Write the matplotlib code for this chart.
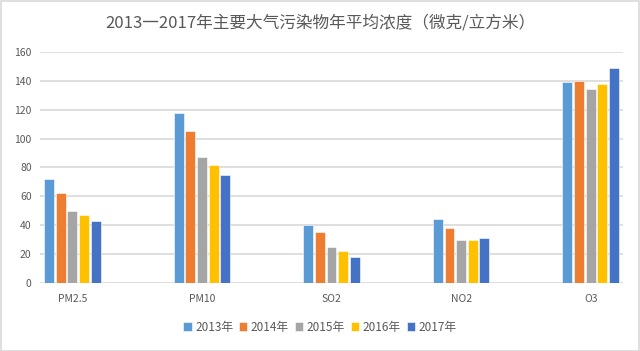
import matplotlib
matplotlib.use("Agg")
import matplotlib.pyplot as plt
import numpy as np
from matplotlib.patches import Rectangle

plt.rcParams['font.family'] = ['Noto Sans CJK SC', 'DejaVu Sans']

categories = ["PM2.5", "PM10", "SO2", "NO2", "O3"]
years = ["2013年", "2014年", "2015年", "2016年", "2017年"]
v2013 = [72, 118, 40, 44, 139]
v2014 = [62, 105, 35, 38, 140]
v2015 = [50, 87, 25, 30, 134]
v2016 = [47, 82, 22, 30, 138]
v2017 = [43, 75, 18, 31, 149]
series = [v2013, v2014, v2015, v2016, v2017]
colors = ["#5B9BD5", "#ED7D31", "#A5A5A5", "#FFC000", "#4472C4"]

fig = plt.figure(figsize=(6.4, 3.51), dpi=100)
ax = fig.add_axes([0.0625, 0.194, 0.911, 0.658])

x = np.arange(len(categories))
pitch = 0.09
bw = 0.076
for i, (vals, c, lab) in enumerate(zip(series, colors, years)):
    ax.bar(x + (i - 2) * pitch, vals, width=bw, color=c, label=lab,
           edgecolor="white", linewidth=0.4, zorder=3)

ax.set_ylim(0, 160)
ax.set_xlim(-0.25, 4.25)
ax.set_yticks(np.arange(0, 161, 20))
ax.set_xticks(x)
ax.set_xticklabels(categories)
ax.tick_params(axis='both', length=0, labelsize=7.5, colors="#595959")
ax.tick_params(axis='x', pad=8)
ax.tick_params(axis='y', pad=6)
for s in ax.spines.values():
    s.set_visible(False)
ax.grid(axis='y', color="#D9D9D9", linewidth=1.2, zorder=0)
ax.set_axisbelow(True)

fig.text(0.5, 0.935, "2013一2017年主要大气污染物年平均浓度（微克/立方米）",
         ha='center', va='center', fontsize=12, color="#595959")

leg = fig.legend(loc='center', bbox_to_anchor=(0.5, 0.068), ncol=5, frameon=False,
                 fontsize=8.5, handlelength=0.7, handleheight=0.7,
                 handletextpad=0.3, columnspacing=0.5)
for t in leg.get_texts():
    t.set_color("#595959")

fig.patches.append(Rectangle((0.001, 0.001), 0.997, 0.996, transform=fig.transFigure,
                             fill=False, edgecolor="#D9D9D9", linewidth=1.2))

fig.savefig("out.png", dpi=100, facecolor="white")
